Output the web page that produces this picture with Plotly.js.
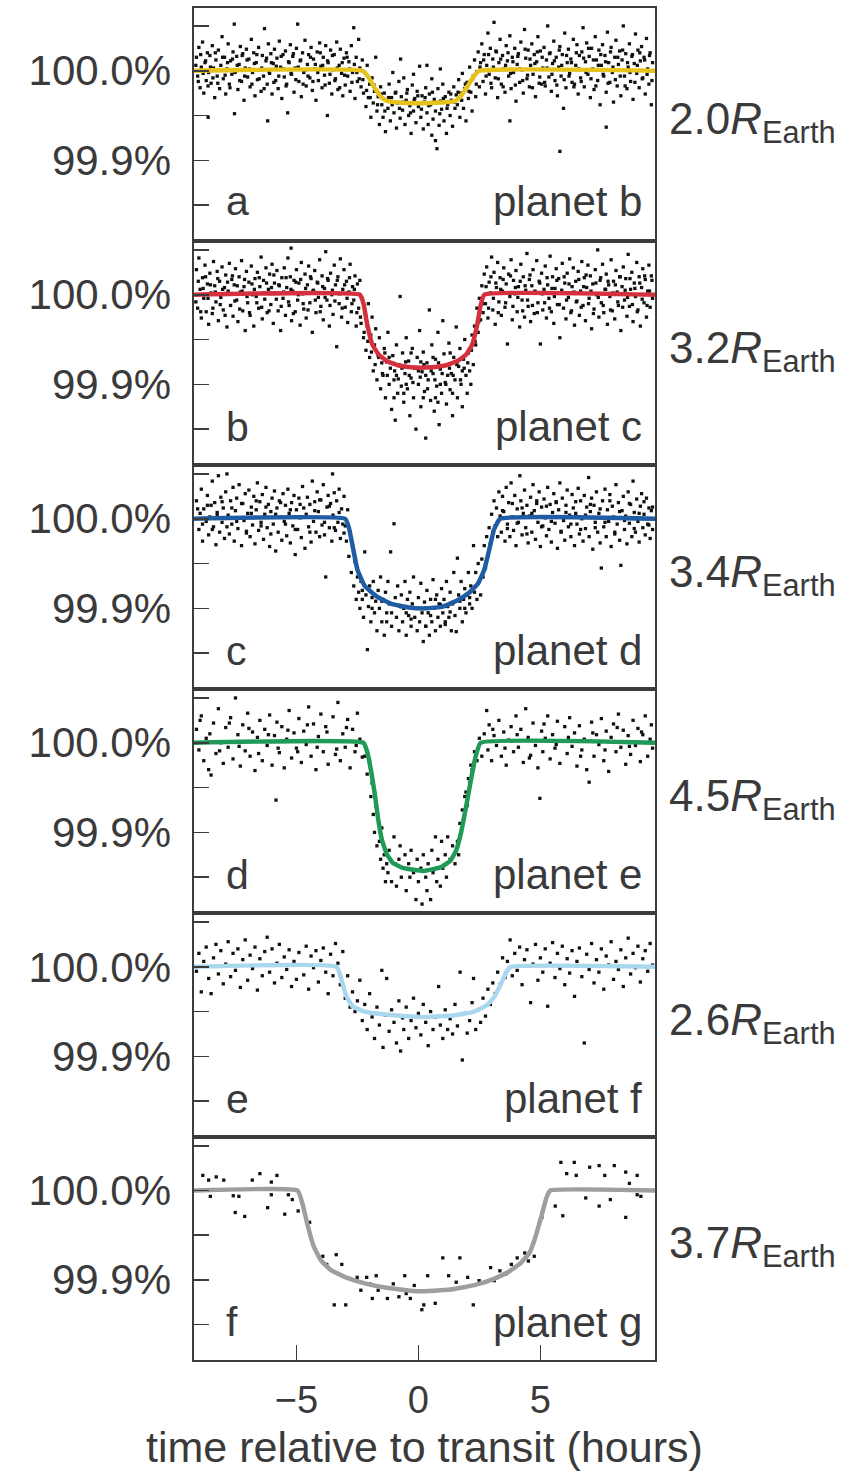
<!DOCTYPE html>
<html><head><meta charset="utf-8">
<script src="https://cdn.plot.ly/plotly-3.0.1.min.js"></script>
<style>html,body{margin:0;padding:0;background:#fff}</style>
</head><body><div id="chart" style="width:867px;height:1475px"></div>
<script>
// ---- labels ----
const timeTickVals = [-5, 0, 5];
const fluxTickVals = [99.85, 99.9, 99.95, 100.0, 100.05];
const fluxTickText = ['', '99.9%', '', '100.0%', ''];
const panelLetters = ['a', 'b', 'c', 'd', 'e', 'f'];
const planetNames = ['planet b', 'planet c', 'planet d', 'planet e', 'planet f', 'planet g'];
const planetRadii = ['2.0', '3.2', '3.4', '4.5', '2.6', '3.7'];
const modelColors = ['#e6c21c', '#d4303e', '#1f5ca3', '#1f9a57', '#a9d8ee', '#9e9e9e'];
const xTitle = 'time relative to transit (hours)';

// ---- observations: [hours from mid-transit, flux deviation in ppm] ----
const obsB = [
[-9.1,150],[-9.05,-60],[-9.0,260],[-8.95,-190],[-8.9,40],[-8.85,320],[-8.8,-250],[-8.75,90],[-8.7,-110],[-8.65,200],[-8.62,-520],[-8.6,-20],
[-8.55,170],[-8.5,-140],[-8.45,280],[-8.4,30],[-8.35,-300],[-8.3,120],[-8.25,-60],[-8.2,230],[-8.15,-200],[-8.1,60],[-8.05,380],
[-8.0,-90],[-7.95,150],[-7.9,-260],[-7.85,20],[-7.8,300],[-7.75,-150],[-7.7,110],[-7.65,-40],[-7.6,210],[-7.55,520],[-7.54,-480],[-7.5,-10],
[-7.45,160],[-7.4,-210],[-7.35,70],[-7.3,270],[-7.25,-120],[-7.2,190],[-7.15,-330],[-7.1,30],[-7.05,240],[-7.0,-70],
[-6.95,130],[-6.9,-180],[-6.85,350],[-6.8,-20],[-6.75,200],[-6.7,-280],[-6.65,90],[-6.6,-100],[-6.55,260],[-6.5,10],
[-6.45,-230],[-6.4,170],[-6.35,-60],[-6.31,470],[-6.25,110],[-6.2,-150],[-6.18,-560],[-6.15,300],[-6.1,-30],[-6.05,190],[-6.0,-260],
[-5.95,80],[-5.9,240],[-5.85,-110],[-5.8,140],[-5.75,-200],[-5.7,330],[-5.65,40],[-5.6,-310],[-5.55,180],[-5.5,-70],
[-5.45,220],[-5.4,-150],[-5.36,-470],[-5.3,90],[-5.25,290],[-5.2,-40],[-5.15,160],[-5.1,-240],[-5.05,30],[-5.0,250],
[-4.95,520],[-4.9,-120],[-4.85,110],[-4.8,-290],[-4.75,200],[-4.7,-20],[-4.65,340],[-4.6,-170],[-4.55,70],[-4.5,180],
[-4.45,-80],[-4.4,260],[-4.35,-220],[-4.3,130],[-4.25,20],[-4.2,-330],[-4.15,210],[-4.1,-110],[-4.05,310],[-4.0,50],
[-3.95,-190],[-3.9,150],[-3.85,-50],[-3.8,280],[-3.73,-500],[-3.7,90],[-3.65,-140],[-3.6,230],[-3.55,-260],[-3.5,10],
[-3.45,180],[-3.4,-90],[-3.35,320],[-3.3,-210],[-3.25,60],[-3.2,240],[-3.15,-30],[-3.1,-280],[-3.05,140],[-3.0,-160],
[-2.95,200],[-2.9,-60],[-2.85,100],[-2.8,-230],[-2.75,280],[-2.7,-20],[-2.65,480],[-2.6,-310],[-2.55,150],[-2.5,-120],[-2.45,350],[-2.4,30],
[-2.35,-180],[-2.3,120],[-2.25,-250],[-2.2,-20],[-2.15,-400],[-2.1,60],[-2.05,-300],[-2.0,-150],[-1.95,-520],[-1.9,-80],[-1.85,-360],
[-1.8,-230],[-1.75,150],[-1.7,-450],[-1.65,-290],[-1.6,-600],[-1.55,-180],[-1.5,-380],[-1.45,-520],[-1.4,-250],[-1.35,-680],[-1.3,-330],
[-1.25,-420],[-1.2,-150],[-1.15,-560],[-1.1,-300],[-1.05,-20],[-1.0,-470],[-0.95,-250],[-0.9,-640],[-0.85,-360],[-0.8,-120],
[-0.75,-530],[-0.73,130],[-0.7,-290],[-0.65,-440],[-0.6,-80],[-0.55,-600],[-0.5,-330],[-0.45,-210],[-0.4,-500],[-0.35,-390],
[-0.3,-700],[-0.25,-160],[-0.2,-450],[-0.2,-40],[-0.15,-310],[-0.1,-580],[-0.05,-230],[0.0,-400],[0.05,50],[0.1,-520],
[0.15,-280],[0.2,-650],[0.25,-350],[0.3,-190],[0.35,-470],[0.35,60],[0.4,-600],[0.45,-260],[0.5,-380],[0.55,-90],[0.55,-720],
[0.6,-540],[0.65,-320],[0.7,-450],[0.7,-780],[0.76,-870],[0.8,-200],[0.85,-610],[0.9,-340],[0.9,20],[0.95,-430],[1.0,-150],
[1.05,-560],[1.1,-290],[1.15,-700],[1.2,-380],[1.25,-240],[1.3,-500],[1.35,-330],[1.4,-620],[1.45,-180],[1.5,-420],[1.55,-270],
[1.6,-380],[1.65,-100],[1.7,-520],[1.75,-250],[1.8,-30],[1.85,-420],[1.9,-200],[1.95,-560],[2.0,-130],[2.05,-310],
[2.1,40],[2.15,-240],[2.2,-450],[2.25,-60],[2.3,120],[2.35,-290],[2.4,-10],[2.45,210],[2.5,-180],[2.55,90],
[2.6,300],[2.65,-120],[2.7,180],[2.75,-260],[2.8,60],[2.85,420],[2.9,-40],[2.95,250],[3.0,-190],[3.05,130],[3.1,540],
[3.15,-80],[3.2,210],[3.25,-300],[3.3,90],[3.35,350],[3.4,-150],[3.45,170],[3.5,20],[3.55,-240],[3.6,280],
[3.65,110],[3.7,-60],[3.75,390],[3.75,-560],[3.8,-200],[3.85,150],[3.9,-20],[3.95,250],[4.0,-340],[4.05,70],[4.1,190],
[4.15,-130],[4.2,320],[4.25,10],[4.3,-250],[4.35,460],[4.4,140],[4.45,-90],[4.5,230],[4.55,-180],[4.6,60],
[4.65,300],[4.7,-40],[4.75,180],[4.8,-290],[4.85,100],[4.9,380],[4.95,-140],[5.0,220],[5.05,-150],[5.1,30],
[5.15,260],[5.2,-170],[5.25,120],[5.3,500],[5.35,-70],[5.4,200],[5.45,-230],[5.5,80],[5.55,330],[5.6,-110],
[5.65,150],[5.7,-280],[5.75,40],[5.8,270],[5.8,-900],[5.85,-60],[5.9,180],[5.95,-420],[6.0,420],[6.05,-190],[6.1,90],
[6.15,240],[6.2,-30],[6.25,130],[6.3,-130],[6.35,350],[6.4,-150],[6.45,60],[6.5,290],[6.55,-260],[6.6,170],
[6.65,-80],[6.7,210],[6.75,480],[6.8,-180],[6.85,100],[6.9,310],[6.95,-40],[7.0,160],[7.05,-300],[7.1,250],
[7.15,20],[7.2,-210],[7.25,380],[7.3,120],[7.35,-110],[7.4,230],[7.45,-380],[7.5,60],[7.55,290],[7.6,-60],
[7.65,170],[7.7,-240],[7.7,-630],[7.75,430],[7.8,90],[7.85,-130],[7.9,260],[7.95,-20],[8.0,-350],[8.05,150],[8.1,340],
[8.15,-170],[8.2,70],[8.25,220],[8.3,-280],[8.35,120],[8.4,500],[8.45,-60],[8.5,190],[8.55,-200],[8.6,40],
[8.65,300],[8.7,-120],[8.75,160],[8.8,-320],[8.85,80],[8.9,410],[8.95,-30],[9.0,230],[9.05,-190],[9.1,110],
[9.15,270],[9.2,-80],[9.25,150],[9.3,-260],[9.35,360],[9.4,20],[9.45,-150],[9.5,200],[9.55,-380],[9.6,90]
];
const obsB_core = [
[-9.125,60],[-9.025,-120],[-8.925,180],[-8.825,-30],[-8.725,110],[-8.625,-170],[-8.525,40],[-8.425,-80],[-8.325,200],[-8.225,-140],
[-8.125,10],[-8.025,150],[-7.925,-50],[-7.825,90],[-7.725,-190],[-7.625,130],[-7.525,-20],[-7.425,60],[-7.325,-110],[-7.225,170],
[-7.125,-60],[-7.025,120],[-6.925,20],[-6.825,-150],[-6.725,80],[-6.625,180],[-6.525,-90],[-6.425,30],[-6.325,-200],[-6.225,140],
[-6.125,-10],[-6.025,90],[-5.925,-130],[-5.825,50],[-5.725,-60],[-5.625,160],[-5.525,20],[-5.425,-170],[-5.325,100],[-5.225,-30],
[-5.125,190],[-5.025,-100],[-4.925,40],[-4.825,120],[-4.725,-150],[-4.625,10],[-4.525,-60],[-4.425,150],[-4.325,-120],[-4.225,70],
[-4.125,-20],[-4.025,200],[-3.925,60],[-3.825,-160],[-3.725,110],[-3.625,-40],[-3.525,170],[-3.425,-110],[-3.325,30],[-3.225,-190],
[-3.125,90],[-3.025,-50],[-2.925,150],[-2.825,20],[-2.725,-130],[-2.625,70],[-2.525,-20],[-2.425,-90],
[-2.275,-100],[-2.125,-220],[-1.975,-300],[-1.825,-160],[-1.675,-380],[-1.525,-260],[-1.375,-450],[-1.225,-300],[-1.075,-380],[-0.925,-240],
[-0.775,-420],[-0.625,-350],[-0.475,-250],[-0.325,-470],[-0.175,-330],[-0.025,-280],[0.125,-430],[0.275,-300],[0.425,-390],[0.575,-240],
[0.725,-360],[0.875,-480],[1.025,-310],[1.175,-420],[1.325,-260],[1.475,-350],[1.625,-240],[1.775,-330],[1.925,-150],[2.075,-230],
[2.225,-90],[2.375,-150],[2.525,40],
[2.675,120],[2.775,-60],[2.875,180],[2.975,-140],[3.075,40],[3.175,220],[3.275,-90],[3.375,130],[3.475,-180],[3.575,60],
[3.675,200],[3.775,-30],[3.875,100],[3.975,-160],[4.075,160],[4.175,20],[4.275,-110],[4.375,240],[4.475,-50],[4.575,130],
[4.675,-190],[4.775,80],[4.875,210],[4.975,-70],[5.075,150],[5.175,-130],[5.275,30],[5.375,190],[5.475,-40],[5.575,110],
[5.675,-160],[5.775,230],[5.875,60],[5.975,-100],[6.075,170],[6.175,-60],[6.275,90],[6.375,-180],[6.475,200],[6.575,20],
[6.675,-120],[6.775,140],[6.875,-20],[6.975,250],[7.075,-90],[7.175,120],[7.275,-170],[7.375,60],[7.475,180],[7.575,-40],
[7.675,100],[7.775,-140],[7.875,210],[7.975,40],[8.075,-100],[8.175,150],[8.275,-60],[8.375,230],[8.475,-170],[8.575,90],
[8.675,-20],[8.775,180],[8.875,-130],[8.975,60],[9.075,200],[9.175,-90],[9.275,120],[9.375,-40],[9.475,170],[9.575,-110]
];
const obsC = [
[-9.1,280],[-9.05,-150],[-9.0,410],[-8.95,60],[-8.9,-260],[-8.85,190],[-8.8,-40],[-8.75,330],[-8.7,-190],[-8.65,120],[-8.6,-330],
[-8.55,240],[-8.5,20],[-8.45,-210],[-8.4,370],[-8.35,100],[-8.3,-80],[-8.25,260],[-8.2,-290],[-8.15,150],[-8.1,-30],
[-8.05,310],[-8.0,-170],[-7.95,80],[-7.9,220],[-7.85,-360],[-7.8,40],[-7.75,350],[-7.7,-120],[-7.65,170],[-7.6,-240],
[-7.55,110],[-7.5,290],[-7.45,-60],[-7.4,-300],[-7.35,200],[-7.3,30],[-7.25,380],[-7.2,-180],[-7.15,90],[-7.1,-400],
[-7.05,260],[-7.0,-90],[-6.95,140],[-6.9,-230],[-6.85,320],[-6.8,0],[-6.75,-350],[-6.7,180],[-6.65,-20],[-6.6,250],
[-6.55,-150],[-6.5,90],[-6.45,420],[-6.4,-270],[-6.35,160],[-6.3,-50],[-6.25,300],[-6.2,-200],[-6.15,60],[-6.1,230],
[-6.05,-110],[-6.0,340],[-5.95,-320],[-5.9,130],[-5.85,20],[-5.8,270],[-5.75,-180],[-5.7,100],[-5.65,-400],[-5.6,190],
[-5.55,-40],[-5.5,300],[-5.45,-230],[-5.4,80],[-5.35,410],[-5.3,-120],[-5.25,200],[-5.22,520],[-5.2,-290],[-5.15,40],[-5.1,160],
[-5.05,-190],[-5.0,280],[-4.95,-60],[-4.9,130],[-4.85,-340],[-4.8,360],[-4.75,10],[-4.7,-160],[-4.65,230],[-4.6,-260],
[-4.55,110],[-4.5,320],[-4.45,-90],[-4.4,180],[-4.35,-420],[-4.3,50],[-4.25,270],[-4.2,-200],[-4.15,140],[-4.1,-30],
[-4.05,390],[-4.0,-130],[-3.95,210],[-3.9,-280],[-3.85,70],[-3.8,480],[-3.75,-60],[-3.7,160],[-3.65,-350],[-3.6,240],
[-3.55,0],[-3.5,-220],[-3.45,330],[-3.4,110],[-3.35,-580],[-3.3,200],[-3.25,-100],[-3.2,400],[-3.15,-250],[-3.1,60],
[-3.05,280],[-3.0,-140],[-2.95,150],[-2.9,-310],[-2.85,30],[-2.8,340],[-2.75,-190],[-2.7,90],[-2.65,-60],[-2.6,210],[-2.55,-350],[-2.5,120],
[-2.45,-150],[-2.4,160],[-2.35,-320],[-2.3,-40],[-2.25,-480],[-2.2,-200],[-2.15,-620],[-2.1,-350],[-2.05,-100],[-2.0,-700],
[-1.95,-450],[-1.9,-250],[-1.85,-850],[-1.8,-560],[-1.75,-380],[-1.7,-950],[-1.65,-680],[-1.6,-480],[-1.55,-1050],[-1.5,-760],
[-1.45,-900],[-1.4,-600],[-1.35,-1150],[-1.3,-750],[-1.25,-420],[-1.2,-1000],[-1.2,-700],[-1.15,-820],[-1.1,-1280],[-1.05,-680],
[-1.0,-950],[-0.95,-1400],[-0.9,-560],[-0.9,-900],[-0.85,-1100],[-0.8,-780],[-0.75,-20],[-0.7,-1020],[-0.65,-650],[-0.6,-1200],
[-0.6,-800],[-0.55,-880],[-0.5,-480],[-0.5,-1000],[-0.45,-1050],[-0.4,-740],[-0.35,-1350],[-0.3,-930],[-0.3,-650],[-0.25,-600],
[-0.2,-1150],[-0.15,-820],[-0.1,-1500],[-0.05,-700],[0.0,-1000],[0.0,-850],[0.05,-400],[0.1,-1250],[0.1,-750],[0.15,-860],
[0.2,-640],[0.25,-1080],[0.3,-1600],[0.3,-900],[0.35,-760],[0.4,-950],[0.45,-170],[0.5,-1180],[0.55,-560],[0.6,-880],
[0.6,-700],[0.65,-1300],[0.7,-720],[0.7,-1150],[0.75,-1020],[0.8,-420],[0.85,-1450],[0.9,-830],[0.9,-1000],[0.95,-1100],
[1.0,-290],[1.05,-660],[1.1,-980],[1.15,-1220],[1.2,-780],[1.2,-900],[1.25,-540],[1.3,-1060],[1.3,-650],[1.35,-880],
[1.4,-1350],[1.45,-700],[1.5,-950],[1.5,-750],[1.55,-360],[1.6,-1150],[1.65,-800],[1.7,-600],[1.75,-1000],[1.8,-1250],
[1.8,-850],[1.85,-720],[1.9,-500],[1.95,-900],[2.0,-1100],[2.05,-650],[2.1,-850],[2.15,-1000],[2.2,-450],
[2.25,-780],[2.3,-350],[2.35,-560],[2.4,-150],[2.45,-420],[2.5,-40],[2.55,-280],[2.6,100],[2.65,-200],[2.7,230],
[2.75,-100],[2.8,310],[2.85,-260],[2.9,140],[2.95,20],[3.0,420],[3.05,-170],[3.1,250],[3.15,-330],[3.2,80],
[3.25,360],[3.3,-80],[3.35,190],[3.4,-230],[3.45,40],[3.5,300],[3.55,-140],[3.6,120],[3.65,-550],[3.7,230],
[3.75,-20],[3.8,390],[3.85,-280],[3.9,160],[3.95,10],[4.0,270],[4.05,-190],[4.1,90],[4.15,-360],[4.2,340],
[4.25,-60],[4.3,200],[4.35,-250],[4.4,50],[4.45,460],[4.5,-130],[4.55,170],[4.6,-300],[4.65,100],[4.7,280],
[4.75,-210],[4.8,30],[4.85,380],[4.9,-90],[4.95,150],[5.0,-550],[5.05,240],[5.1,-170],[5.15,60],[5.2,320],
[5.25,-260],[5.3,110],[5.35,-40],[5.4,430],[5.45,-190],[5.5,200],[5.55,-320],[5.6,70],[5.65,290],[5.7,-110],
[5.75,180],[5.8,-480],[5.85,20],[5.9,350],[5.95,-150],[6.0,130],[6.05,-270],[6.1,240],[6.15,-30],[6.2,400],
[6.25,-200],[6.3,90],[6.35,300],[6.4,-340],[6.45,150],[6.5,-70],[6.55,260],[6.6,-230],[6.65,40],[6.7,370],
[6.75,-120],[6.8,190],[6.85,-290],[6.9,80],[6.95,330],[7.0,-40],[7.05,210],[7.1,-380],[7.15,120],[7.2,-160],
[7.25,280],[7.3,0],[7.35,500],[7.4,-250],[7.45,160],[7.5,-90],[7.55,340],[7.6,-200],[7.65,60],[7.7,230],
[7.75,-330],[7.8,110],[7.85,-20],[7.9,390],[7.95,-180],[8.0,150],[8.05,-270],[8.1,270],[8.15,30],[8.2,-120],
[8.25,200],[8.3,-400],[8.35,90],[8.4,310],[8.45,-60],[8.5,180],[8.55,-240],[8.6,450],[8.65,-130],[8.7,60],
[8.75,250],[8.8,-300],[8.85,130],[8.9,-20],[8.95,360],[9.0,-170],[9.05,200],[9.1,-350],[9.15,80],[9.2,290],
[9.25,-90],[9.3,170],[9.35,-250],[9.4,40],[9.45,330],[9.5,-140],[9.55,210],[9.6,-40]
];
const obsC_core = [
[-9.125,-80],[-9.025,150],[-8.925,-190],[-8.825,70],[-8.725,200],[-8.625,-40],[-8.525,110],[-8.425,-150],[-8.325,30],[-8.225,180],
[-8.125,-110],[-8.025,60],[-7.925,-230],[-7.825,140],[-7.725,10],[-7.625,210],[-7.525,-70],[-7.425,100],[-7.325,-160],[-7.225,40],
[-7.125,170],[-7.025,-20],[-6.925,-200],[-6.825,120],[-6.725,60],[-6.625,-90],[-6.525,190],[-6.425,-140],[-6.325,20],[-6.225,130],
[-6.125,-180],[-6.025,80],[-5.925,220],[-5.825,-50],[-5.725,110],[-5.625,-130],[-5.525,30],[-5.425,190],[-5.325,-80],[-5.225,60],
[-5.125,-210],[-5.025,140],[-4.925,0],[-4.825,170],[-4.725,-100],[-4.625,70],[-4.525,-170],[-4.425,200],[-4.325,40],[-4.225,-60],
[-4.125,130],[-4.025,-190],[-3.925,90],[-3.825,-30],[-3.725,180],[-3.625,-120],[-3.525,50],[-3.425,-70],[-3.325,160],[-3.225,10],
[-3.125,-150],[-3.025,110],[-2.925,-40],[-2.825,190],[-2.725,-100],[-2.625,60],[-2.525,-200],
[-2.375,-250],[-2.225,-420],[-2.075,-520],[-1.925,-640],[-1.775,-780],[-1.625,-700],[-1.475,-880],[-1.375,-650],[-1.275,-900],[-1.125,-760],
[-0.975,-850],[-0.825,-940],[-0.675,-820],[-0.525,-750],[-0.375,-900],[-0.225,-980],[-0.075,-820],[0.075,-920],[0.225,-780],[0.375,-1050],
[0.525,-850],[0.675,-950],[0.825,-760],[0.975,-880],[1.125,-1000],[1.275,-820],[1.425,-900],[1.575,-780],[1.725,-950],[1.875,-820],
[2.025,-760],[2.175,-620],[2.325,-520],[2.475,-300],[2.625,-100],[-1.0,-1150],[-0.6,-1100],[0.2,-1150],[0.8,-1200],[1.4,-1100],
[2.775,90],[2.875,-150],[2.975,200],[3.075,-40],[3.175,130],[3.275,-200],[3.375,60],[3.475,170],[3.575,-90],[3.675,20],
[3.775,210],[3.875,-130],[3.975,80],[4.075,-30],[4.175,150],[4.275,-180],[4.375,100],[4.475,-60],[4.575,220],[4.675,-120],
[4.775,40],[4.875,-200],[4.975,130],[5.075,10],[5.175,-90],[5.275,190],[5.375,-150],[5.475,70],[5.575,-20],[5.675,160],
[5.775,-110],[5.875,50],[5.975,200],[6.075,-60],[6.175,120],[6.275,-180],[6.375,30],[6.475,-80],[6.575,170],[6.675,-140],
[6.775,90],[6.875,220],[6.975,-100],[7.075,40],[7.175,-210],[7.275,130],[7.375,-30],[7.475,190],[7.575,-120],[7.675,60],
[7.775,150],[7.875,-170],[7.975,20],[8.075,110],[8.175,-80],[8.275,200],[8.375,-140],[8.475,50],[8.575,-30],[8.675,180],
[8.775,-110],[8.875,70],[8.975,-190],[9.075,130],[9.175,-50],[9.275,210],[9.375,-120],[9.475,40],[9.575,160]
];
const obsD = [
[-9.1,200],[-9.0,-120],[-8.95,60],[-8.9,330],[-8.85,-250],[-8.8,110],[-8.7,-30],[-8.65,260],[-8.6,-180],[-8.55,20],[-8.5,150],
[-8.45,420],[-8.4,-90],[-8.35,180],[-8.3,-290],[-8.25,70],[-8.2,480],[-8.15,-150],[-8.1,240],[-8.05,-40],[-8.0,120],
[-7.95,-220],[-7.9,300],[-7.85,500],[-7.8,40],[-7.75,-170],[-7.7,200],[-7.65,-60],[-7.6,350],[-7.55,-250],[-7.5,90],
[-7.45,230],[-7.4,-110],[-7.35,380],[-7.3,10],[-7.25,-300],[-7.2,170],[-7.15,-20],[-7.1,280],[-7.05,-160],[-7.0,60],
[-6.95,320],[-6.9,-200],[-6.85,130],[-6.8,-70],[-6.75,250],[-6.7,-280],[-6.65,100],[-6.6,400],[-6.55,-130],[-6.5,190],
[-6.45,-40],[-6.4,270],[-6.35,-230],[-6.3,50],[-6.25,350],[-6.2,-100],[-6.15,160],[-6.1,-310],[-6.05,80],[-6.0,230],
[-5.95,-60],[-5.9,310],[-5.85,-360],[-5.8,120],[-5.75,-150],[-5.7,200],[-5.65,20],[-5.6,-240],[-5.55,280],[-5.5,-30],
[-5.45,150],[-5.4,-190],[-5.35,330],[-5.3,60],[-5.25,-270],[-5.2,180],[-5.15,-80],[-5.1,260],[-5.05,-400],[-5.0,100],
[-4.95,-120],[-4.9,230],[-4.85,10],[-4.8,-210],[-4.75,360],[-4.7,120],[-4.65,-330],[-4.6,50],[-4.55,240],[-4.5,-90],
[-4.45,160],[-4.4,-260],[-4.35,420],[-4.3,-30],[-4.25,190],[-4.2,-150],[-4.15,300],[-4.1,80],[-4.05,-200],[-4.0,210],
[-3.95,-70],[-3.9,380],[-3.85,-180],[-3.8,-650],[-3.75,130],[-3.7,260],[-3.65,-100],[-3.6,170],[-3.55,-250],[-3.52,500],
[-3.5,40],[-3.45,290],[-3.4,-130],[-3.35,200],[-3.3,-40],[-3.25,330],[-3.2,-220],[-3.15,110],[-3.1,-60],[-3.05,250],
[-3.0,-80],[-2.95,-250],[-2.9,100],[-2.85,-420],[-2.8,-150],[-2.75,-600],[-2.7,-300],[-2.65,-750],[-2.6,-480],[-2.55,-900],
[-2.5,-650],[-2.45,-820],[-2.4,-1000],[-2.35,-700],[-2.3,-900],[-2.25,-1100],[-2.2,-370],[-2.15,-850],[-2.09,-1460],[-2.05,-980],[-2.0,-750],
[-1.95,-1150],[-1.9,-880],[-1.85,-700],[-1.8,-1050],[-1.75,-920],[-1.7,-1250],[-1.65,-800],[-1.6,-1000],[-1.55,-650],[-1.5,-1150],
[-1.45,-900],[-1.4,-1300],[-1.35,-820],[-1.3,-1050],[-1.25,-700],[-1.2,-950],[-1.14,-370],[-1.1,-1200],[-1.0,-56],[-0.95,-880],
[-0.9,-1100],[-0.85,-750],[-0.8,-1250],[-0.75,-980],[-0.7,-850],[-0.65,-1150],[-0.6,-1000],[-0.55,-700],[-0.5,-1300],[-0.45,-900],
[-0.4,-1080],[-0.35,-820],[-0.3,-1200],[-0.25,-950],[-0.2,-650],[-0.15,-1100],[-0.1,-1000],[-0.05,-1250],[0.0,-880],[0.05,-1150],
[0.1,-720],[0.15,-1050],[0.2,-1370],[0.25,-930],[0.3,-1200],[0.35,-800],[0.4,-1050],[0.45,-1300],[0.5,-900],[0.55,-1150],
[0.6,-680],[0.65,-1000],[0.7,-1250],[0.75,-850],[0.8,-1100],[0.85,-950],[0.9,-1200],[0.95,-780],[1.0,-1050],[1.05,-900],
[1.1,-1180],[1.15,-700],[1.2,-980],[1.25,-1100],[1.3,-820],[1.35,-1250],[1.4,-950],[1.45,-600],[1.5,-1080],[1.55,-1260],
[1.6,-440],[1.65,-850],[1.7,-1000],[1.75,-700],[1.8,-1150],[1.85,-900],[1.9,-780],[1.95,-1050],[2.0,-850],[2.05,-600],
[2.1,-950],[2.15,-750],[2.2,-1000],[2.26,-300],[2.3,-820],[2.35,-600],[2.4,-900],[2.45,-500],[2.5,-700],
[2.55,-850],[2.6,-450],[2.65,-650],[2.7,-300],[2.75,-550],[2.8,-200],[2.85,-420],[2.9,-100],[2.95,-280],[3.0,50],
[3.05,-150],[3.1,200],[3.15,-80],[3.2,120],[3.25,-200],[3.3,300],[3.35,30],
[3.4,-150],[3.45,250],[3.5,80],[3.55,-250],[3.6,350],[3.65,-60],[3.7,180],[3.75,-200],[3.8,400],[3.85,20],
[3.9,-130],[3.95,260],[4.0,-300],[4.05,110],[4.1,-40],[4.16,480],[4.2,200],[4.25,-180],[4.3,60],[4.35,320],
[4.4,-100],[4.45,150],[4.5,-270],[4.55,30],[4.6,240],[4.65,-150],[4.7,380],[4.75,90],[4.8,-230],[4.85,170],
[4.9,-40],[4.95,300],[5.0,-310],[5.05,130],[5.1,-80],[5.15,220],[5.2,10],[5.25,-190],[5.3,350],[5.35,-120],
[5.4,160],[5.45,-260],[5.5,70],[5.55,280],[5.6,-50],[5.65,190],[5.7,-330],[5.75,100],[5.8,400],[5.85,-140],
[5.9,230],[5.95,-20],[6.0,-240],[6.05,150],[6.1,320],[6.15,-90],[6.2,40],[6.25,-200],[6.3,270],[6.35,120],
[6.4,-300],[6.45,60],[6.5,-60],[6.55,340],[6.6,-170],[6.65,200],[6.7,0],[6.75,-250],[6.8,260],[6.85,-110],
[6.9,130],[6.98,460],[7.0,-200],[7.05,80],[7.1,230],[7.15,-340],[7.2,150],[7.25,-40],[7.3,300],[7.35,-150],
[7.4,60],[7.45,-270],[7.5,-550],[7.55,200],[7.6,-90],[7.65,330],[7.7,-200],[7.75,100],[7.8,-30],[7.85,270],
[7.9,-310],[7.95,140],[8.0,20],[8.05,-170],[8.1,380],[8.15,-60],[8.2,180],[8.25,-240],[8.3,-520],[8.35,90],
[8.4,250],[8.45,-120],[8.5,30],[8.55,-280],[8.6,300],[8.65,-50],[8.7,160],[8.75,-200],[8.8,420],[8.85,70],
[8.9,-150],[8.95,220],[9.0,-30],[9.05,-260],[9.1,140],[9.15,280],[9.2,-100],[9.25,50],[9.3,-180],[9.35,230],
[9.4,-60],[9.45,120],[9.5,-220],[9.55,90],[9.6,-120]
];
const obsD_core = [
[-9.05,110],[-8.85,-60],[-8.65,150],[-8.45,-120],[-8.25,40],[-8.05,190],[-7.85,-90],[-7.65,120],[-7.45,-30],[-7.25,170],
[-7.05,-140],[-6.85,60],[-6.65,200],[-6.45,-80],[-6.25,130],[-6.05,-170],[-5.85,50],[-5.65,180],[-5.45,-60],[-5.25,100],
[-5.05,-120],[-4.85,160],[-4.65,20],[-4.45,-150],[-4.25,90],[-4.05,210],[-3.85,-40],[-3.65,140],[-3.45,-100],[-3.25,70],[-3.05,-160],
[-2.3,-800],[-1.9,-1000],[-1.5,-920],[-1.1,-1050],[-0.7,-980],[-0.3,-1120],[0.1,-1000],[0.5,-1080],[0.9,-960],[1.3,-1040],
[1.7,-920],[2.1,-880],[-1.3,-1150],[-0.5,-1050],[0.3,-1200],[0.7,-900],[1.1,-1150],[1.9,-1000],
[3.45,90],[3.65,-110],[3.85,170],[4.05,-50],[4.25,120],[4.45,-170],[4.65,60],[4.85,200],[5.05,-90],[5.25,140],
[5.45,-30],[5.65,180],[5.85,-150],[6.05,70],[6.25,-60],[6.45,190],[6.65,-120],[6.85,40],[7.05,160],[7.25,-100],
[7.45,110],[7.65,-40],[7.85,200],[8.05,-150],[8.25,80],[8.45,-20],[8.65,170],[8.85,-110],[9.05,60],[9.25,190],[9.45,-70],[9.6,130]
];
const obsE = [
[-9.1,150],[-9.0,-80],[-8.95,250],[-8.9,300],[-8.8,-200],[-8.7,50],[-8.6,-300],[-8.55,100],[-8.5,-360],[-8.4,220],
[-8.3,-120],[-8.2,380],[-8.15,-90],[-8.1,0],[-8.0,-230],[-7.9,170],[-7.8,-50],[-7.75,220],[-7.7,280],[-7.6,-180],
[-7.5,500],[-7.4,90],[-7.35,-40],[-7.3,-260],[-7.2,200],[-7.1,-90],[-7.0,330],[-6.95,160],[-6.9,-150],[-6.8,120],
[-6.7,-310],[-6.6,60],[-6.55,-120],[-6.5,250],[-6.4,-200],[-6.3,150],[-6.2,-30],[-6.15,90],[-6.1,310],[-6.0,-250],
[-5.9,80],[-5.84,-640],[-5.8,230],[-5.75,-60],[-5.7,-110],[-5.6,180],[-5.5,-280],[-5.4,40],[-5.35,140],[-5.3,360],
[-5.2,-170],[-5.1,110],[-5.0,-60],[-4.95,-100],[-4.9,270],[-4.8,-220],[-4.7,130],[-4.6,-20],[-4.55,200],[-4.5,400],
[-4.4,-150],[-4.3,210],[-4.2,-300],[-4.15,-50],[-4.1,70],[-4.0,320],[-3.9,-100],[-3.8,180],[-3.75,120],[-3.7,-240],
[-3.6,20],[-3.5,290],[-3.4,-130],[-3.35,-70],[-3.3,450],[-3.2,-200],[-3.1,100],[-3.0,-50],[-2.95,170],[-2.9,260],
[-2.8,-280],[-2.7,150],[-2.6,-100],[-2.55,-30],[-2.5,330],[-2.4,40],[-2.3,-160],
[-2.2,-150],[-2.1,-350],[-2.0,-200],[-1.95,-600],[-1.9,-450],[-1.85,-800],[-1.8,-1000],[-1.75,-700],[-1.7,-1150],[-1.6,-1100],
[-1.55,-1300],[-1.5,-950],[-1.45,-1400],[-1.4,-1250],[-1.35,-1550],[-1.3,-1350],
[-1.25,-1450],[-1.2,-1200],[-1.1,-1550],[-1.0,-1050],[-0.95,-1350],[-0.9,-1600],[-0.8,-1300],[-0.75,-1150],[-0.7,-1500],[-0.6,-1400],
[-0.55,-1250],[-0.5,-1650],[-0.4,-1350],[-0.35,-1500],[-0.3,-1200],[-0.2,-1450],[-0.1,-1750],[-0.05,-1300],[0.0,-1550],[0.1,-1400],
[0.15,-1800],[0.2,-1250],[0.3,-1500],[0.35,-1650],[0.4,-1350],[0.5,-1750],[0.55,-1200],[0.6,-1450],[0.7,-1050],[0.75,-1550],
[0.8,-1300],[0.9,-1600],[0.95,-1100],[1.0,-1400],[1.1,-1250],[1.15,-1500],[1.2,-1050],[1.3,-1300],[1.4,-1150],[1.5,-1350],
[1.6,-1100],[1.65,-1250],[1.7,-900],[1.75,-1000],[1.8,-750],[1.85,-850],[1.9,-600],[1.95,-550],[2.0,-700],[2.05,-400],
[2.1,-450],[2.15,-250],[2.2,-300],[2.3,-100],[2.4,-200],[2.5,50],[2.6,-150],
[2.7,100],[2.8,360],[2.85,-80],[2.9,200],[3.0,-200],[3.05,150],[3.1,80],[3.2,-30],[3.3,250],[3.4,-150],
[3.5,120],[3.55,-60],[3.6,-250],[3.7,30],[3.8,180],[3.9,-100],[4.0,300],[4.05,90],[4.1,-50],[4.2,150],
[4.3,-220],[4.4,380],[4.5,60],[4.55,-170],[4.6,-140],[4.7,220],[4.8,-30],[4.9,-280],[4.98,-620],[5.05,130],
[5.1,-100],[5.15,210],[5.2,50],[5.3,300],[5.4,-180],[5.5,90],[5.6,-60],[5.65,-20],[5.7,240],[5.8,-230],
[5.9,20],[6.0,180],[6.1,-120],[6.15,60],[6.2,280],[6.3,-40],[6.4,110],[6.5,-260],[6.6,190],[6.65,-150],
[6.7,-80],[6.8,40],[6.9,-300],[7.0,-440],[7.1,230],[7.15,110],[7.2,-150],[7.3,90],[7.4,-20],[7.5,270],
[7.6,-200],[7.65,-80],[7.7,130],[7.8,-320],[7.9,60],[8.0,210],[8.1,-100],[8.15,170],[8.2,320],[8.3,-50],
[8.4,140],[8.5,-240],[8.6,80],[8.65,-40],[8.7,-130],[8.8,250],[8.9,-30],[9.0,160],[9.1,-210],[9.15,120],
[9.2,90],[9.3,300],[9.4,-150],[9.5,40],[9.55,200],[9.6,-60]
];
const obsF = [
[-9.1,-50],[-9.0,150],[-8.9,-280],[-8.8,60],[-8.7,220],[-8.6,-130],[-8.5,-300],[-8.4,100],[-8.3,250],[-8.2,-80],
[-8.1,180],[-8.0,-190],[-7.9,30],[-7.8,280],[-7.7,-110],[-7.6,150],[-7.5,-40],[-7.4,200],[-7.3,-230],[-7.2,80],
[-7.1,300],[-7.0,-150],[-6.9,130],[-6.8,-20],[-6.7,220],[-6.6,-260],[-6.5,90],[-6.4,-100],[-6.3,170],[-6.2,330],
[-6.1,-60],[-6.0,200],[-5.9,-180],[-5.8,40],[-5.7,250],[-5.6,-120],[-5.5,110],[-5.4,-30],[-5.3,190],[-5.2,-220],
[-5.1,60],[-5.0,-140],[-4.9,160],[-4.8,20],[-4.7,-90],[-4.6,230],[-4.5,-250],[-4.4,120],[-4.3,-10],[-4.2,180],
[-4.1,-170],[-4.0,70],[-3.9,210],[-3.8,-60],[-3.7,-300],[-3.6,140],[-3.5,-100],[-3.4,260],[-3.3,40],
[-3.2,-200],[-3.1,170],[-3.0,-350],[-2.9,-100],[-2.8,-450],[-2.7,-280],[-2.6,-500],[-2.5,-380],[-2.4,-150],[-2.3,-600],
[-2.2,-420],[-2.1,-700],[-2.0,-300],
[-1.9,-560],[-1.8,-800],[-1.7,-450],[-1.6,-650],[-1.5,-40],[-1.45,-900],[-1.35,-540],[-1.3,-130],[-1.2,-720],[-1.1,-480],
[-1.0,-620],[-0.9,-850],[-0.8,-380],[-0.73,-940],[-0.65,-570],[-0.6,-700],[-0.5,-450],[-0.4,-800],[-0.3,-600],[-0.2,-350],
[-0.1,-680],[0.0,-520],[0.1,-760],[0.2,-420],[0.3,-620],[0.4,-880],[0.5,-500],[0.6,-700],[0.7,-560],[0.83,-220],
[0.9,-650],[1.0,-800],[1.1,-480],[1.2,-700],[1.3,-580],[1.4,-750],[1.5,-420],[1.6,-660],[1.71,-60],[1.8,-1040],
[1.9,-520],[2.0,-740],[2.1,-600],[2.2,-400],[2.26,-130],[2.35,-700],[2.45,-480],[2.55,-620],[2.65,-350],[2.75,-550],[2.85,-250],
[2.95,-420],[3.05,-180],[3.15,-300],[3.25,-60],[3.35,-200],[3.45,100],[3.55,-120],[3.65,60],[3.76,300],
[3.85,-100],[3.95,150],[4.05,-40],[4.15,220],[4.25,-200],[4.35,80],[4.45,190],[4.6,-400],[4.7,30],[4.8,250],
[4.9,-150],[5.0,100],[5.1,-60],[5.2,200],[5.3,-440],[5.4,40],[5.5,270],[5.6,-120],[5.7,150],[5.8,-20],
[5.9,230],[6.0,-200],[6.1,90],[6.2,-70],[6.3,180],[6.4,-330],[6.5,60],[6.6,210],[6.7,-110],[6.8,-850],
[6.9,140],[7.0,-30],[7.1,260],[7.2,-180],[7.3,80],[7.4,-60],[7.5,200],[7.6,-250],[7.7,120],[7.8,20],
[7.9,280],[8.0,-140],[8.1,60],[8.2,-30],[8.3,190],[8.4,-220],[8.5,100],[8.6,320],[8.7,-80],[8.8,150],
[8.9,-10],[9.0,230],[9.1,-170],[9.2,90],[9.3,180],[9.4,-50],[9.5,260],[9.6,20]
];
const obsG = [
[-8.84,170],[-8.6,117],[-8.53,-65],[-8.29,153],[-7.98,117],[-7.59,-58],[-7.51,-246],[-7.36,-65],[-7.12,-290],[-6.81,117],
[-6.5,190],[-6.18,-192],[-6.03,95],[-6.03,-47],[-5.8,170],[-5.48,-265],[-5.33,-47],[-5.17,-101],[-4.93,-229],
[-4.46,-356],[-3.92,-737],[-3.76,-828],[-3.45,-1282],[-3.37,-719],[-3.14,-828],[-2.98,-1282],[-2.51,-973],[-2.36,-1118],[-2.12,-973],
[-2.0,-1046],[-1.89,-1210],[-1.73,-955],[-1.65,-1118],[-1.27,-1210],[-1.03,-1046],[-0.8,-1191],[-0.56,-955],[-0.5,-1155],[-0.33,-1210],
[-0.17,-1064],[0.14,-1336],[0.22,-1282],[0.38,-955],[0.69,-1264],[1.0,-755],[1.24,-955],[1.55,-1028],[1.7,-755],[2.02,-973],
[2.25,-1282],[2.49,-1010],[2.96,-864],[3.11,-1010],[3.34,-900],[3.58,-937],[3.81,-828],[4.05,-755],[4.36,-700],[4.51,-790],
[4.75,-737],[5.06,-301],
[5.61,-174],[5.84,316],[5.92,-283],[6.08,190],[6.39,316],[6.47,170],[6.86,-83],[7.02,262],[7.41,280],[7.41,-174],
[7.64,170],[7.87,-101],[8.03,280],[8.5,-301],[8.5,207],[8.65,80],[8.97,170],[8.97,-47],[9.12,-65]
];

// ---- model light curves: hours, relative flux (%) ----
const modelB_t = [-9.2,-2.3,-2.05,-1.8,-1.5,-1.25,-0.5,0.5,1.5,1.75,2.0,2.25,2.5,9.7];
const modelB_f = [100,100,99.993,99.981,99.970,99.966,99.964,99.964,99.966,99.972,99.982,99.993,100,100];
const modelC_t = [-9.2,-2.4,-2.25,-2.1,-1.9,-1.65,-1.3,-0.8,-0.3,0.5,1.1,1.6,1.95,2.2,2.4,2.55,2.7,9.7];
const modelC_f = [100,100,99.99,99.967,99.945,99.934,99.926,99.921,99.919,99.919,99.921,99.926,99.933,99.944,99.965,99.988,100,100];
const modelD_t = [-9.2,-3.0,-2.85,-2.7,-2.5,-2.2,-1.7,-1.1,-0.4,0.3,1.0,1.6,2.1,2.45,2.7,2.9,3.1,3.35,9.7];
const modelD_f = [100,100,99.99,99.97,99.943,99.925,99.913,99.905,99.901,99.9,99.902,99.909,99.918,99.928,99.943,99.965,99.988,100,100];
const modelE_t = [-9.2,-2.25,-2.1,-1.95,-1.8,-1.65,-1.5,-1.3,-1.05,-0.6,0.2,0.9,1.3,1.55,1.75,1.95,2.15,2.35,2.55,9.7];
const modelE_f = [100,100,99.99,99.97,99.945,99.915,99.892,99.876,99.866,99.86,99.857,99.861,99.868,99.88,99.9,99.928,99.958,99.985,100,100];
const modelF_t = [-9.2,-3.35,-3.15,-2.95,-2.7,-2.2,-1.0,0.3,1.5,2.3,2.8,3.1,3.4,3.6,3.8,9.7];
const modelF_f = [100,100,99.985,99.967,99.956,99.95,99.946,99.944,99.946,99.95,99.957,99.966,99.982,99.994,100,100];
const modelG_t = [-9.2,-4.95,-4.75,-4.55,-4.3,-4.0,-3.6,-3.0,-2.2,-1.3,0.0,1.3,2.3,3.1,3.7,4.2,4.55,4.8,5.05,5.25,5.4,9.7];
const modelG_f = [100,100,99.985,99.962,99.938,99.922,99.911,99.903,99.896,99.891,99.887,99.889,99.894,99.901,99.909,99.919,99.93,99.948,99.972,99.992,100,100];

const observations = [obsB.concat(obsB_core), obsC.concat(obsC_core), obsD.concat(obsD_core), obsE, obsF, obsG];
const modelTimes = [modelB_t, modelC_t, modelD_t, modelE_t, modelF_t, modelG_t];
const modelFluxes = [modelB_f, modelC_f, modelD_f, modelE_f, modelF_f, modelG_f];

// ---- layout geometry ----
const panelDomains = [[0.8277,1],[0.6620,0.8277],[0.4963,0.6620],[0.3306,0.4963],[0.1649,0.3306],[0,0.1649]];
const panelRanges = [[99.81,100.07],[99.81,100.06],[99.81,100.06],[99.81,100.06],[99.81,100.06],[99.81,100.06]];
const FONT = '"Liberation Sans", Arial, Helvetica, sans-serif';
const TXT = '#3a3a3a';
const AX = '#3c3c3c';

const traces = [];
const layout = {
  width: 867, height: 1475,
  margin: {l: 194, r: 212, t: 8, b: 115},
  paper_bgcolor: '#ffffff', plot_bgcolor: '#ffffff',
  showlegend: false,
  font: {family: FONT, color: TXT, size: 40},
  annotations: []
};

for (let i = 0; i < 6; i++) {
  const n = i === 0 ? '' : String(i + 1);
  const xa = 'x' + n, ya = 'y' + n;
  const obs = observations[i];
  traces.push({
    type: 'scatter', mode: 'markers', xaxis: xa, yaxis: ya,
    x: obs.map(p => p[0]), y: obs.map(p => 100 + p[1] / 10000),
    marker: {symbol: 'square', size: 3.3, color: '#111111', line: {width: 0}},
    hoverinfo: 'skip'
  });
  traces.push({
    type: 'scatter', mode: 'lines', xaxis: xa, yaxis: ya,
    x: modelTimes[i], y: modelFluxes[i],
    line: {color: modelColors[i], width: 4.5, shape: 'spline', smoothing: 0.35},
    hoverinfo: 'skip'
  });
  const last = i === 5;
  layout['xaxis' + n] = {
    domain: [0, 1], anchor: ya, range: [-9.2, 9.7],
    showline: true, mirror: true, linecolor: AX, linewidth: 1.6,
    showgrid: false, zeroline: false,
    ticks: last ? 'inside' : '', tickvals: timeTickVals, ticklen: 15, tickwidth: 1.6, tickcolor: AX,
    showticklabels: last, ticklabelstandoff: 6,
    tickfont: {family: FONT, size: 38, color: TXT},
    automargin: false
  };
  if (i > 0) layout['xaxis' + n].matches = 'x';
  layout['yaxis' + n] = {
    domain: panelDomains[i], anchor: xa, range: panelRanges[i],
    showline: true, mirror: true, linecolor: AX, linewidth: 1.6,
    showgrid: false, zeroline: false,
    ticks: 'inside', tickmode: 'array', tickvals: fluxTickVals, ticktext: fluxTickText,
    ticklen: 15, tickwidth: 1.6, tickcolor: AX,
    ticklabelstandoff: 13,
    tickfont: {family: FONT, size: 42, color: TXT},
    automargin: false
  };
  const yd = (i === 0 ? 'y' : 'y' + n) + ' domain';
  layout.annotations.push({
    xref: 'paper', x: 0.066, xanchor: 'left', yref: yd, y: 0.17, yanchor: 'middle',
    text: panelLetters[i], showarrow: false, font: {family: FONT, size: 41, color: TXT}
  });
  layout.annotations.push({
    xref: 'paper', x: 0.976, xanchor: 'right', yref: yd, y: 0.17, yanchor: 'middle',
    text: planetNames[i], showarrow: false, font: {family: FONT, size: 42, color: TXT}
  });
  layout.annotations.push({
    xref: 'paper', x: 1.026, xanchor: 'left', yref: yd, y: 0.51, yanchor: 'middle',
    text: planetRadii[i] + '<i>R</i><sub>Earth</sub>', showarrow: false,
    font: {family: FONT, size: 44, color: TXT}
  });
}
layout.annotations.push({
  xref: 'paper', x: 0.5, xanchor: 'center', yref: 'paper', y: -0.0645, yanchor: 'middle',
  text: xTitle, showarrow: false, font: {family: FONT, size: 43, color: TXT}
});

Plotly.newPlot('chart', traces, layout, {staticPlot: true, displayModeBar: false});
</script>
</body></html>
